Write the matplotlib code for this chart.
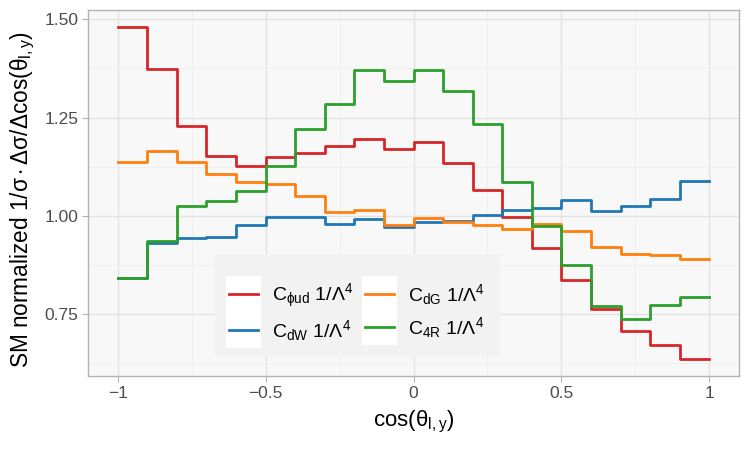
import matplotlib
matplotlib.use("Agg")
import matplotlib.pyplot as plt
import numpy as np
from matplotlib.legend_handler import HandlerLine2D
from matplotlib.patches import Rectangle

plt.rcParams['font.family'] = ['Liberation Sans', 'DejaVu Sans']
plt.rcParams['mathtext.fontset'] = 'custom'
plt.rcParams['mathtext.rm'] = 'Liberation Sans'
plt.rcParams['mathtext.it'] = 'Liberation Sans:italic'
plt.rcParams['mathtext.bf'] = 'Liberation Sans:bold'

bin_edges = np.round(np.arange(-1.0, 1.0001, 0.1), 2)

c_phiud = [1.481, 1.374, 1.229, 1.152, 1.126, 1.150, 1.161, 1.178, 1.195, 1.171,
           1.187, 1.134, 1.065, 0.998, 0.917, 0.837, 0.764, 0.707, 0.672, 0.635]
c_dw = [0.842, 0.931, 0.943, 0.947, 0.977, 0.997, 0.996, 0.978, 0.992, 0.971,
        0.983, 0.987, 1.002, 1.015, 1.020, 1.040, 1.011, 1.026, 1.044, 1.089]
c_dg = [1.136, 1.165, 1.137, 1.107, 1.085, 1.081, 1.051, 1.009, 1.016, 0.977,
        0.994, 0.984, 0.977, 0.967, 0.980, 0.962, 0.921, 0.904, 0.901, 0.889]
c_4r = [0.842, 0.937, 1.024, 1.038, 1.063, 1.127, 1.221, 1.284, 1.370, 1.344,
        1.370, 1.318, 1.233, 1.087, 0.975, 0.876, 0.770, 0.737, 0.772, 0.794]

series = [
    (r'$\mathrm{C_{\phi ud}\ 1/\Lambda^4}$', c_phiud, '#d62728'),
    (r'$\mathrm{C_{dW}\ 1/\Lambda^4}$', c_dw, '#1f77b4'),
    (r'$\mathrm{C_{dG}\ 1/\Lambda^4}$', c_dg, '#ff7f0e'),
    (r'$\mathrm{C_{4R}\ 1/\Lambda^4}$', c_4r, '#2ca02c'),
]

fig = plt.figure(figsize=(7.5, 4.5), dpi=100)
ax = fig.add_axes([88/750, 1-376/450, (739-88)/750, (376-10)/450])
ax.set_facecolor('#F8F8F8')

for label, vals, col in series:
    v = list(vals) + [vals[-1]]
    ax.step(bin_edges, v, where='post', color=col, lw=2.0, label=label, zorder=3)

ax.set_xlim(-1.1, 1.1)
ax.set_ylim(0.5925, 1.5235)
ax.set_xticks([-1, -0.5, 0, 0.5, 1])
ax.set_xticklabels(['\u22121', '\u22120.5', '0', '0.5', '1'])
ax.set_xticks([-0.75, -0.25, 0.25, 0.75], minor=True)
ax.set_yticks([0.75, 1.0, 1.25, 1.5])
ax.set_yticklabels(['0.75', '1.00', '1.25', '1.50'])
ax.set_yticks([0.625, 0.875, 1.125, 1.375], minor=True)

ax.grid(which='major', color='#E3E3E3', lw=1.0, zorder=0)
ax.grid(which='minor', color='#EEEEEE', lw=0.6, zorder=0)
ax.set_axisbelow(True)
for s in ax.spines.values():
    s.set_color('#B3B3B3')
    s.set_linewidth(1.0)
ax.tick_params(which='major', colors='#B3B3B3', labelcolor='#4D4D4D', labelsize=12.5, length=4, width=0.8, pad=3)
ax.tick_params(which='minor', length=0)

ax.set_xlabel(r'$\mathrm{cos(\theta_{l,y})}$', fontsize=16, color='black', labelpad=6)
ax.set_ylabel(r'$\mathrm{SM\ normalized\ 1/\sigma\cdot\Delta\sigma/\Delta cos(\theta_{l,y})}$',
              fontsize=16.3, color='black')
ax.yaxis.set_label_coords(-0.078, 0.481)

ROW_PT = 25.9


class KeyHandler(HandlerLine2D):
    def create_artists(self, legend, orig_handle, xdescent, ydescent, width, height, fontsize, trans):
        pad = 2.5
        cy = -ydescent + height / 2
        rect = Rectangle((-xdescent - pad, cy - ROW_PT / 2), width + 2 * pad, ROW_PT,
                         facecolor='white', edgecolor='none', transform=trans)
        arts = super().create_artists(legend, orig_handle, xdescent, ydescent, width, height, fontsize, trans)
        return [rect] + arts


handles, labels = ax.get_legend_handles_labels()
leg = ax.legend(handles, labels, ncol=2, loc='lower left', bbox_to_anchor=(0.195, 0.052),
                borderaxespad=0,
                frameon=True, fontsize=14, handlelength=1.46, handletextpad=0.75,
                columnspacing=0.58, labelspacing=0.41, borderpad=0.74,
                title=' ', title_fontsize=4,
                handler_map={h: KeyHandler() for h in handles})
leg.get_frame().set_facecolor('#F2F2F2')
leg.get_frame().set_edgecolor('none')
leg.get_frame().set_boxstyle('square', pad=0)
leg.get_frame().set_alpha(1)
leg.set_zorder(5)

fig.savefig('out.png', dpi=100)
